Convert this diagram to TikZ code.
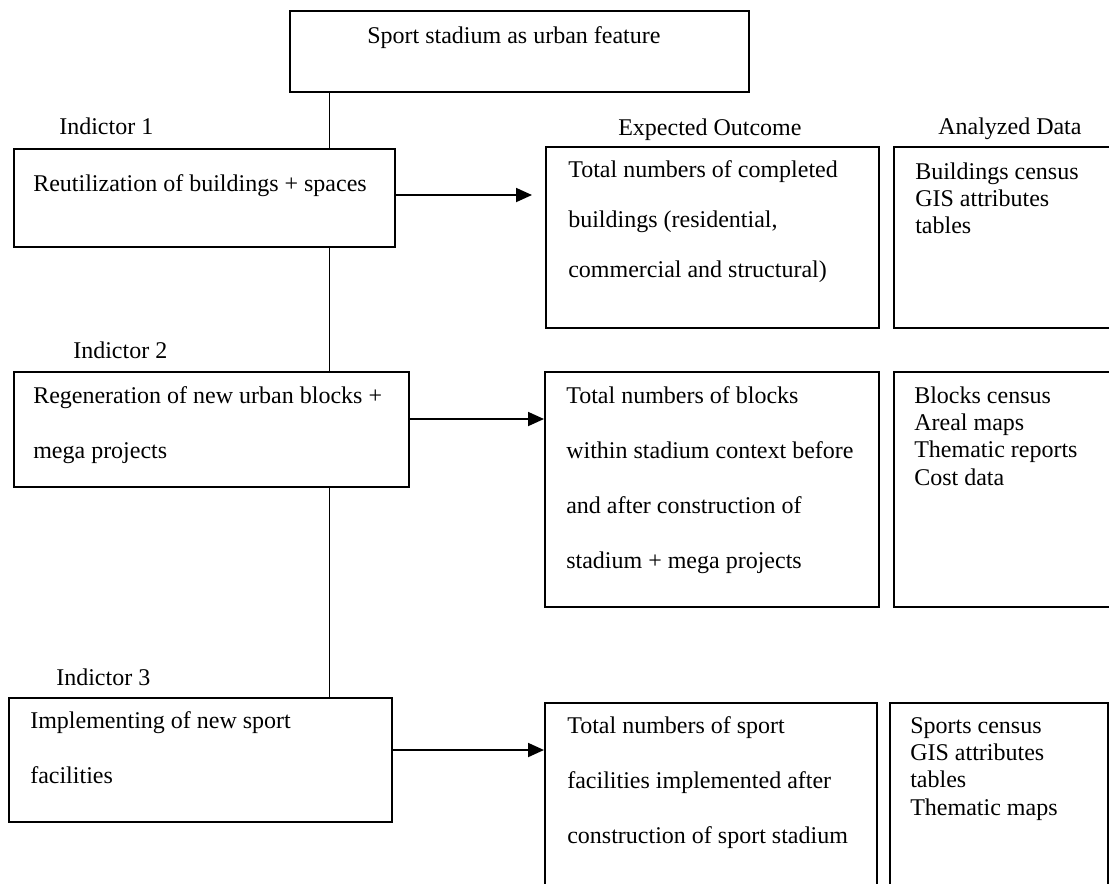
\documentclass[tikz,border=0pt]{standalone}
\usepackage{fontspec}
\setmainfont{Liberation Serif}
\usetikzlibrary{arrows.meta}
% left-aligned lines, baseline on the first line
\newcommand\linestack[1]{\begin{tabular}[t]{@{}l@{}}#1\end{tabular}}
\begin{document}
\begin{tikzpicture}[x=0.75pt,y=-0.75pt,
  frame/.style 2 args={draw, line width=1.3pt, anchor=north west, inner sep=0pt,
    minimum width=#1*0.75pt, minimum height=#2*0.75pt},
  label/.style={anchor=base west, inner sep=0pt, font=\fontsize{18pt}{20.6pt}\selectfont},
  para/.style={anchor=base west, inner sep=0pt, font=\fontsize{18pt}{#1}\selectfont},
  link/.style={line width=0.75pt},
  arr/.style={line width=1.4pt, -{Triangle[length=12pt,width=10.5pt]}}]
\useasboundingbox (0,0) rectangle (1109,883);
\clip (0,0) rectangle (1109,883);

% boxes
\node[frame={459}{81}]  (top) at (289,10) {};
\node[frame={381}{98}]  (b1) at (13,148) {};
\node[frame={333}{181}] (e1) at (545,146) {};
\node[frame={222}{181}] (a1) at (893,146) {};
\node[frame={395}{115}] (b2) at (13,371) {};
\node[frame={334}{235}] (e2) at (544,371) {};
\node[frame={222}{235}] (a2) at (893,371) {};
\node[frame={383}{124}] (b3) at (8,697) {};
\node[frame={332}{200}] (e3) at (544,702) {};
\node[frame={218}{200}] (a3) at (889,702) {};

% titles and headings
\node[label] (ttop) at (367,43) {Sport stadium as urban feature};
\node[label] (h1) at (59,134) {Indictor 1};
\node[label] (h2) at (73,358) {Indictor 2};
\node[label] (h3) at (56,685) {Indictor 3};
\node[label] (hout) at (618,135) {Expected Outcome};
\node[label] (hdat) at (938,134) {Analyzed Data};

% indicator texts
\node[label] (tb1) at (33,191) {Reutilization of buildings + spaces};
\node[para=41.25pt] (tb2) at (33,403) {\linestack{Regeneration of new urban blocks +\\mega projects}};
\node[para=41.25pt] (tb3) at (30,728) {\linestack{Implementing of new sport\\facilities}};

% expected outcomes
\node[para=37.5pt] (te1) at (568,177) {\linestack{Total numbers of completed\\buildings (residential,\\commercial and structural)}};
\node[para=41.25pt] (te2) at (566,403) {\linestack{Total numbers of blocks\\within stadium context before\\and after construction of\\stadium + mega projects}};
\node[para=41.25pt] (te3) at (567,733) {\linestack{Total numbers of sport\\facilities implemented after\\construction of sport stadium}};

% analyzed data
\node[para=20.6pt] (ta1) at (915,179) {\linestack{Buildings census\\GIS attributes\\tables}};
\node[para=20.6pt] (ta2) at (914,403) {\linestack{Blocks census\\Areal maps\\Thematic reports\\Cost data}};
\node[para=20.6pt] (ta3) at (910,733) {\linestack{Sports census\\GIS attributes\\tables\\Thematic maps}};

% spine joining the indicator boxes
\coordinate (spine) at (329,0);
\draw[link] (spine |- top.south) -- (spine |- b1.north);
\draw[link] (spine |- b1.south) -- (spine |- b2.north);
\draw[link] (spine |- b2.south) -- (spine |- b3.north);

% arrows to the outcomes
\coordinate (t1) at (532,195);
\draw[arr] (b1.east |- t1) -- (t1);
\draw[arr] (b2.east |- 0,419) -- (e2.west |- 0,419);
\draw[arr] (b3.east |- 0,750) -- (e3.west |- 0,750);
\end{tikzpicture}
\end{document}
